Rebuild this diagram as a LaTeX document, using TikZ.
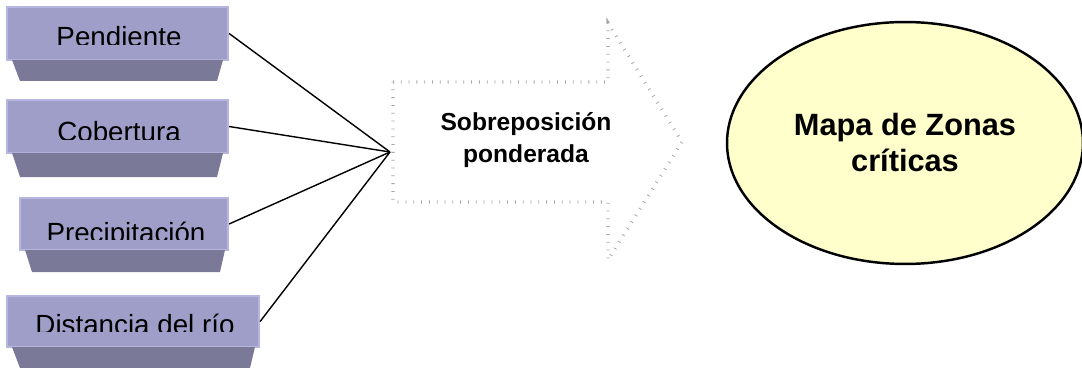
\documentclass[tikz,border=0pt]{standalone}
\usepackage{fontspec}
\setmainfont{Liberation Sans}
\usetikzlibrary{shapes.geometric,positioning}

\definecolor{facelila}{RGB}{158,158,200}
\definecolor{edgelila}{RGB}{182,182,224}
\definecolor{basegris}{RGB}{122,122,152}
\definecolor{amarillo}{RGB}{255,255,204}

\tikzset{
  cara/.style={rectangle, fill=facelila, draw=edgelila, line width=1.3pt, inner sep=0pt},
  etiqueta/.style={anchor=base, inner sep=0pt, font=\fontsize{15.8}{18}\selectfont},
  base/.style={fill=basegris},
  flecha/.style={draw=gray!70, line width=1.9pt, dash pattern=on 0.45pt off 4pt},
  liga/.style={draw=black, line width=0.8pt},
}

\begin{document}
\begin{tikzpicture}[x=0.02cm, y=-0.02cm]
        \useasboundingbox (0,0) rectangle (1082,368);
        % cajas de entrada
        \node[cara, minimum width=4.42cm, minimum height=1.06cm] (pend) at (117.5,33.5) {};
        \node[etiqueta] (pendtxt) at (119,47) {Pendiente};
        \fill[facelila] (9,45) rectangle (226,59);
        \fill[base] (12,60) -- (223,60) -- (217,81) -- (20,81) -- cycle;

        \node[cara, minimum width=4.42cm, minimum height=1.06cm] (cob) at (117.5,126.5) {};
        \node[etiqueta] (cobtxt) at (119,142) {Cobertura};
        \fill[facelila] (9,140) rectangle (226,152);
        \fill[base] (12,153) -- (223,153) -- (217,177) -- (20,177) -- cycle;

        \node[cara, minimum width=4.16cm, minimum height=1.04cm] (prec) at (124,224) {};
        \node[etiqueta] (prectxt) at (126,242) {Precipitación};
        \fill[facelila] (22,240) rectangle (226,249);
        \fill[base] (25,250) -- (225,250) -- (220,272) -- (32,272) -- cycle;

        \node[cara, minimum width=5.04cm, minimum height=1.02cm] (dist) at (133,321.5) {};
        \node[etiqueta] (disttxt) at (135,334) {Distancia del río};
        \fill[facelila] (9,332) rectangle (257,346);
        \fill[base] (12,347) -- (255,347) -- (250,368) -- (20,368) -- cycle;

        % flecha punteada
        \draw[flecha] (393,82) -- (608,82) -- (608,23) -- (682,142) -- (608,260)
                      -- (608,202) -- (393,202) -- cycle;
        \node[align=center, font=\bfseries\fontsize{14}{18}\selectfont] (sobre) at (526,140)
             {Sobreposición\\ponderada};

        % conexiones
        \coordinate (nudo) at (390,152);
        \draw[liga] (pend.east) -- (nudo);
        \draw[liga] (cob.east) -- (nudo);
        \draw[liga] (prec.east) -- (nudo);
        \draw[liga] (dist.east) -- (nudo);

        % resultado
        \node[ellipse, draw=black, line width=1.4pt, fill=amarillo, minimum width=7.12cm,
              minimum height=4.84cm, align=center, font=\bfseries\fontsize{17.5}{20.5}\selectfont]
             (mapa) at (905,143) {Mapa de Zonas\\críticas};
\end{tikzpicture}
\end{document}
